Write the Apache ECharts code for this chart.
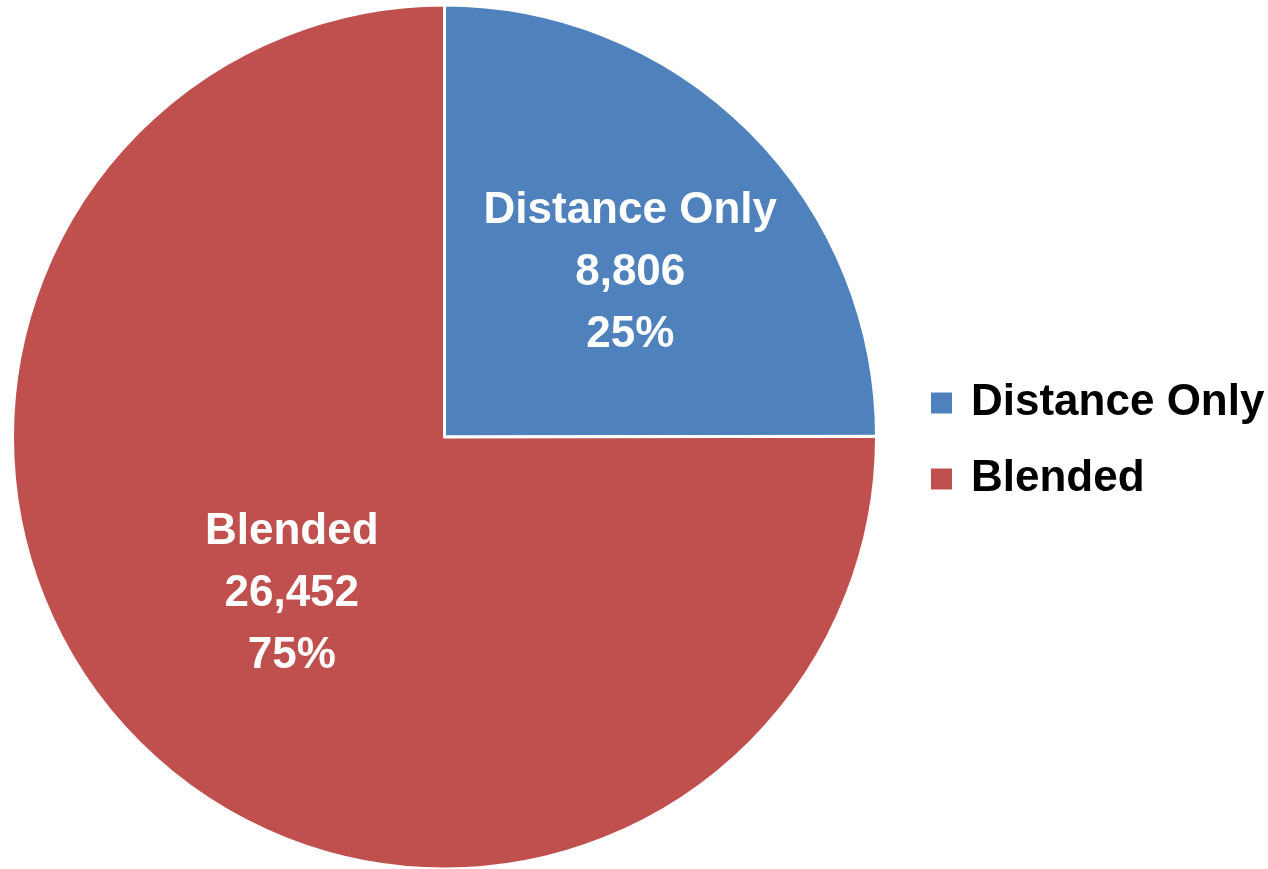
<!DOCTYPE html>
<html>
<head>
<meta charset="utf-8">
<script src="https://cdn.jsdelivr.net/npm/echarts@6/dist/echarts.min.js"></script>
<style>
html,body{margin:0;padding:0;background:#fff;}
#c{width:1268px;height:869px;}
</style>
</head>
<body>
<div id="c"></div>
<script>
const categories = ['Distance Only', 'Blended'];
const values = [8806, 26452];
const colors = ['#4F81BD', '#C0504D'];
const labelOffsets = [[31, -9], [2, 2]];

const FONT = "'Liberation Sans Narrow', 'Arial Narrow', 'Liberation Sans', Arial, sans-serif";
const total = values.reduce((a, b) => a + b, 0);

const chart = echarts.init(document.getElementById('c'), null, {renderer: 'canvas'});
chart.setOption({
  animation: false,
  backgroundColor: '#ffffff',
  legend: {
    orient: 'vertical',
    left: 929,
    top: 380,
    padding: 0,
    itemWidth: 23,
    itemHeight: 23,
    itemGap: 30,
    icon: 'rect',
    data: categories,
    textStyle: {
      fontFamily: FONT,
      fontWeight: 'bold',
      fontSize: 44,
      lineHeight: 46,
      color: '#000000',
      padding: [0, 0, 0, 13]
    }
  },
  series: [{
    type: 'pie',
    center: [444.5, 437],
    radius: 432,
    startAngle: 90,
    clockwise: true,
    avoidLabelOverlap: false,
    itemStyle: {borderColor: '#ffffff', borderWidth: 3},
    label: {
      show: true,
      position: 'inside',
      fontFamily: FONT,
      fontWeight: 'bold',
      fontSize: 44,
      lineHeight: 62,
      color: '#ffffff',
      formatter: function (p) {
        return p.name + '\n' + p.value.toLocaleString('en-US') + '\n' + Math.round(p.value / total * 100) + '%';
      }
    },
    labelLine: {show: false},
    emphasis: {disabled: true},
    data: categories.map((n, i) => ({
      name: n,
      value: values[i],
      itemStyle: {color: colors[i]},
      label: {offset: labelOffsets[i]}
    }))
  }]
});
</script>
</body>
</html>
